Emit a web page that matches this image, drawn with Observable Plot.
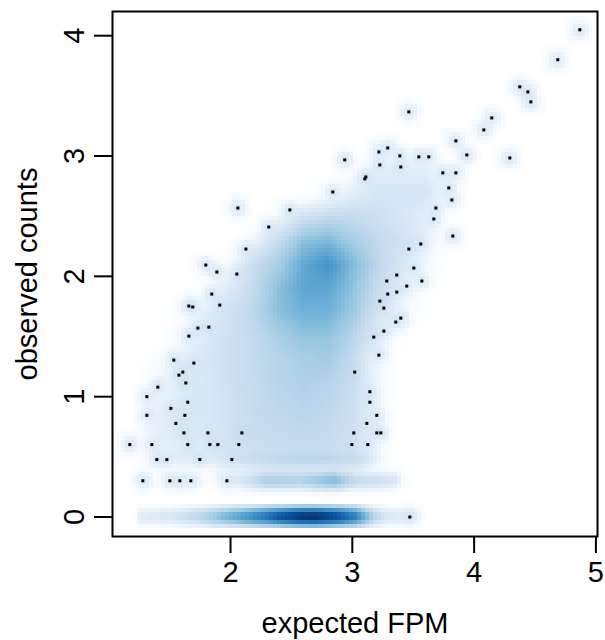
<!DOCTYPE html>
<html>
<head>
<meta charset="utf-8">
<style>html,body{margin:0;padding:0;background:#fff}svg{display:block}</style>
<script src="https://cdn.jsdelivr.net/npm/d3@7"></script>
<script src="https://cdn.jsdelivr.net/npm/@observablehq/plot@0.6"></script>
</head>
<body>
<script>
// Outlying individual points (expected FPM, observed counts)
const pointX = [1.403,1.633,1.313,1.649,1.510,1.313,1.625,1.551,1.617,1.814,2.093,1.173,1.354,1.649,1.830,1.896,2.068,1.395,1.477,1.748,2.011,1.280,1.502,1.584,1.674,1.970,
  3.144,3.144,3.201,3.119,3.012,3.201,3.234,2.996,3.127,3.472,
  2.314,2.126,1.797,1.888,2.052,1.846,1.658,1.690,1.912,1.732,1.822,1.658,1.534,1.699,1.608,1.576,
  3.562,3.464,3.505,3.365,3.283,3.571,3.447,3.365,3.291,3.226,3.259,3.398,3.357,3.259,3.176,3.218,3.020,
  3.464,4.145,4.080,3.850,3.940,3.291,3.218,3.390,3.546,3.628,2.938,3.226,3.398,3.743,3.850,3.111,3.103,3.792,2.840,3.817,3.686,3.669,3.825,
  4.868,4.687,4.375,4.441,4.466,4.293,2.060,2.487];
const pointY = [1.079,1.114,1.000,0.954,0.903,0.845,0.845,0.778,0.699,0.699,0.699,0.602,0.602,0.602,0.602,0.602,0.602,0.477,0.477,0.477,0.477,0.301,0.301,0.301,0.301,0.301,
  1.041,0.954,0.845,0.778,0.699,0.699,0.699,0.602,0.602,0,
  2.410,2.227,2.094,2.036,2.019,1.853,1.753,1.745,1.761,1.570,1.578,1.503,1.304,1.279,1.204,1.179,
  2.269,2.227,2.069,2.011,1.961,1.961,1.919,1.869,1.853,1.794,1.736,1.653,1.620,1.545,1.495,1.345,1.204,
  3.367,3.317,3.217,3.126,3.009,3.067,3.034,3.001,2.993,2.993,2.968,2.926,2.909,2.860,2.860,2.826,2.810,2.735,2.701,2.635,2.568,2.477,2.335,
  4.049,3.800,3.575,3.533,3.450,2.984,2.568,2.552];

// Colour level (0 = white … 9 = darkest) of the smoothed cloud
const levelCols = [1.2,1.4,1.6,1.8,2.0,2.2,2.4,2.6,2.8,3.0,3.2,3.4,3.6,3.8,4.0];
const levelRows = [0.18,0.39,0.5,0.7,0.9,1.1,1.3,1.5,1.7,1.9,2.1,2.3,2.5,2.7,2.9,3.1];
const levels = [
  [0,0.3,0.3,0.2,0.4,0.5,0.6,0.6,0.6,0.5,0.2,0,0,0,0],
  [0,0.9,1.0,1.0,1.6,2.0,2.2,2.3,2.3,2.0,0.9,0,0,0,0],
  [0.5,1.5,1.8,1.9,2.3,2.6,2.8,2.9,2.9,2.5,1.2,0,0,0,0],
  [0.7,1.8,2.1,2.1,2.6,2.9,3.0,3.1,3.0,2.6,1.5,0.1,0,0,0],
  [0.4,1.6,2.0,2.2,2.6,3.0,3.2,3.4,3.2,2.8,1.4,0,0,0,0],
  [0,1.2,2.0,2.2,2.7,3.0,3.4,3.6,3.4,2.9,1.4,0,0,0,0],
  [0,0.9,1.8,2.3,2.7,3.1,3.4,3.7,3.9,3.0,1.4,0,0,0,0],
  [0,0,1.2,2.1,2.7,3.1,3.7,4.2,4.2,3.4,2.1,0.5,0,0,0],
  [0,0,0.8,1.8,2.6,3.3,4.4,4.9,4.9,4.0,2.5,1.4,0.3,0,0],
  [0,0,0,1.0,2.1,3.1,4.4,5.3,5.3,4.3,3.0,1.6,0.6,0,0],
  [0,0,0,0,1.3,3.0,3.8,5.2,6.0,4.6,3.3,2.3,1.2,0,0],
  [0,0,0,0,0,1.5,3.0,4.3,4.6,3.8,3.1,2.6,1.8,0.4,0],
  [0,0,0,0,0,0,1.3,2.6,3.0,3.0,2.7,2.3,1.8,0.4,0],
  [0,0,0,0,0,0,0,0.3,0.8,1.8,2.3,2.3,2.3,1.2,0],
  [0,0,0,0,0,0,0,0,0,0.6,1.8,1.8,1.8,0.6,0],
  [0,0,0,0,0,0,0,0,0,0,0,0,0,0,0]
];
// Bands along the discrete counts y = 0, log10(2) and log10(3)
const band0X = [1.2,1.25,1.5,1.75,2.0,2.16,2.3,2.41,2.57,2.7,2.9,3.03,3.1,3.17,3.27,3.4,3.47,3.56,3.62];
const band0L = [0,1.9,2.2,3.3,5.0,6.0,7.0,7.9,8.8,9.0,7.8,6.5,5.0,3.5,2.3,2.0,2.0,1.0,0];
const band1X = [1.6,1.85,2.0,2.16,2.28,2.4,2.57,2.74,2.86,2.95,3.03,3.24,3.36,3.42,3.5];
const band1L = [0.2,0.6,1.8,2.7,3.6,3.6,3.4,4.1,4.5,3.6,2.9,2.6,2.2,0.8,0];
const band2X = [1.35,1.6,1.9,2.1,2.4,2.8,3.1,3.25,3.35];
const band2L = [0,1.6,1.5,2.2,2.6,2.7,2.4,1.0,0];
const bandY = [0, 0.301, 0.477];

const ramp = ["#FFFFFF","#F7FBFF","#DEEBF7","#C6DBEF","#9ECAE1","#6BAED6","#4292C6","#2171B5","#08519C","#08306B"];
const tickX = [2,3,4,5];
const tickY = [0,1,2,3,4];

const toD = l => Math.pow(l / 9, 4);
const bandSigma = 0.034, pointSigma = 0.038, bandCut = 0.1, pointCut = 0.125;
const bump = (dy, s) => Math.exp(-(dy*dy) / (2*s*s));
const boxed = (dx, dy, s, cut) => (Math.abs(dx) > cut || Math.abs(dy) > cut) ? 0 : bump(dx, s) * bump(dy, s);
const profile = (xs, ls, x) => {
  if (x <= xs[0] || x >= xs[xs.length-1]) return 0;
  const i = d3.bisectRight(xs, x) - 1;
  return ls[i] + (ls[i+1]-ls[i]) * (x-xs[i]) / (xs[i+1]-xs[i]);
};
const gridLevel = (x, y) => {
  if (x <= levelCols[0] || x >= levelCols[14] || y <= levelRows[0] || y >= levelRows[15]) return 0;
  const i = d3.bisectRight(levelCols, x) - 1, j = d3.bisectRight(levelRows, y) - 1;
  const u = (x-levelCols[i])/(levelCols[i+1]-levelCols[i]), v = (y-levelRows[j])/(levelRows[j+1]-levelRows[j]);
  return (1-v)*((1-u)*levels[j][i]+u*levels[j][i+1]) + v*((1-u)*levels[j+1][i]+u*levels[j+1][i+1]);
};
const pointPeak = toD(2.05);
const field = (x, y) => {
  let d = toD(gridLevel(x, y));
  d += toD(profile(band0X, band0L, x)) * boxed(0, y - bandY[0], bandSigma, bandCut);
  d += toD(profile(band1X, band1L, x)) * bump(y - bandY[1], bandSigma);
  d += toD(profile(band2X, band2L, x)) * bump(y - bandY[2], bandSigma);
  for (let k = 0; k < pointX.length; k++) d += pointPeak * boxed(x - pointX[k], y - pointY[k], pointSigma, pointCut);
  return Math.min(1, Math.pow(d, 0.25));
};

const font = "'Liberation Sans', Arial, Helvetica, sans-serif";
const chart = Plot.plot({
  width: 605, height: 640,
  marginLeft: 112, marginRight: 8, marginTop: 11, marginBottom: 104,
  style: {fontFamily: font, background: "#fff", color: "#000"},
  x: {domain: [1.031, 5.013]},
  y: {domain: [-0.162, 4.201]},
  color: {type: "linear", domain: d3.range(10).map(i => i/9), range: ramp, interpolate: "rgb"},
  marks: [
    Plot.raster({fill: field, x1: 1.031, x2: 5.013, y1: -0.162, y2: 4.201, pixelSize: 4, imageRendering: "pixelated"}),
    Plot.dot(pointX.map((x, i) => ({x, y: pointY[i]})), {x: "x", y: "y", symbol: "square", r: 1.7, fill: "#000", stroke: "none"}),
    Plot.frame({stroke: "#000", strokeWidth: 2}),
    Plot.axisX({ticks: tickX, tickFormat: "d", tickSize: 17, tickPadding: 8, fontSize: 29, strokeWidth: 2,
      label: "expected FPM", labelAnchor: "center", labelArrow: "none", labelOffset: 96}),
    Plot.axisY({ticks: tickY, tickFormat: "d", tickSize: 18, tickPadding: 11, fontSize: 29, strokeWidth: 2, tickRotate: -90,
      label: "observed counts", labelAnchor: "center", labelArrow: "none", labelOffset: 96})
  ]
});
document.body.appendChild(chart);
</script>
</body>
</html>
